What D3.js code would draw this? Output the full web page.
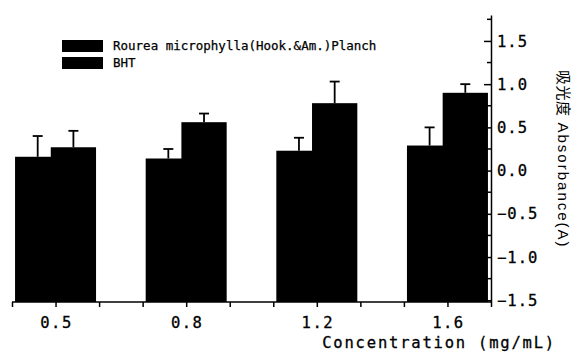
<!DOCTYPE html>
<meta charset="utf-8">
<style>
  body { margin: 0; background: #fff; }
  text { font-family: "DejaVu Sans Mono", monospace; fill: #000; }
</style>
<svg width="576" height="354"></svg>
<script src="https://d3js.org/d3.v7.min.js"></script>
<script>

    var concentrations = ["0.5", "0.8", "1.2", "1.6"];
    var seriesNames = ["Rourea microphylla(Hook.&Am.)Planch", "BHT"];
    var rourea = [0.16, 0.14, 0.23, 0.29];
    var roureaErr = [0.24, 0.11, 0.15, 0.21];
    var bht = [0.27, 0.56, 0.78, 0.90];
    var bhtErr = [0.19, 0.10, 0.25, 0.10];
    var yTicks = [-1.5, -1.0, -0.5, 0.0, 0.5, 1.0, 1.5];

    var svg = d3.select("svg");

    // x is a plain linear axis, groups sit on every third unit
    var x = d3.scaleLinear().domain([0, 11]).range([12, 491]);
    var groupPos = [1, 4, 7, 10];
    var y = d3.scaleLinear().domain([-1.52, 1.8]).range([302, 15]);
    var barW = x(1.04) - x(0);

    var bars = [];
    for (var i = 0; i < concentrations.length; i++) {
        bars.push({ c: groupPos[i] - 0.41, v: rourea[i], e: roureaErr[i] });
        bars.push({ c: groupPos[i] + 0.41, v: bht[i], e: bhtErr[i] });
    }

    // error bars first, bars drawn over them
    var err = svg.append("g").attr("stroke", "#000").attr("stroke-width", 1.8);
    bars.forEach(function(d) {
        var cx = x(d.c);
        err.append("line").attr("x1", cx).attr("x2", cx)
            .attr("y1", y(d.v)).attr("y2", y(d.v + d.e));
        err.append("line").attr("x1", cx - 5).attr("x2", cx + 5)
            .attr("y1", y(d.v + d.e)).attr("y2", y(d.v + d.e));
    });

    svg.append("g").selectAll("rect")
        .data(bars)
        .enter().append("rect")
        .attr("x", function(d) { return x(d.c) - barW / 2; })
        .attr("y", function(d) { return y(d.v); })
        .attr("width", barW)
        .attr("height", function(d) { return y.range()[0] - y(d.v); })
        .attr("fill", "#000");

    // bottom axis
    var xAxis = svg.append("g").attr("transform", "translate(0," + y.range()[0] + ")")
        .call(d3.axisBottom(x).ticks(11).tickSize(5).tickFormat(""));
    xAxis.select(".domain").attr("stroke-width", 1.5).attr("d", "M" + x(0) + ",0H" + x(11));
    xAxis.selectAll(".tick line").attr("stroke-width", 1.5);

    svg.append("g").selectAll("text")
        .data(concentrations)
        .enter().append("text")
        .attr("x", function(d, i) { return x(groupPos[i]) + 1; })
        .attr("y", 328)
        .attr("text-anchor", "middle")
        .style("font-size", "15.5px")
        .style("letter-spacing", "1.5px")
        .style("stroke", "#000").style("stroke-width", 0.3)
        .text(function(d) { return d; });

    svg.append("text")
        .attr("x", 556).attr("y", 348)
        .attr("text-anchor", "end")
        .style("font-size", "15.5px")
        .style("letter-spacing", "1.8px")
        .style("stroke", "#000").style("stroke-width", 0.3)
        .text("Concentration (mg/mL)");

    // right axis, ticks pointing inward
    var yAxis = svg.append("g").attr("transform", "translate(" + x(11) + ",0)");
    yAxis.call(d3.axisLeft(y).tickValues(yTicks).tickSize(7).tickFormat("").tickSizeOuter(0));
    yAxis.select(".domain").attr("stroke-width", 1.5);
    yAxis.selectAll(".tick line").attr("stroke-width", 1.5);
    yAxis.selectAll(".minor")
        .data(d3.range(-1.25, 1.8, 0.5))
        .enter().append("line")
        .attr("class", "minor")
        .attr("x1", -4).attr("x2", 0)
        .attr("y1", function(d) { return y(d); })
        .attr("y2", function(d) { return y(d); })
        .attr("stroke", "#000").attr("stroke-width", 1.5);

    svg.append("g").selectAll("text")
        .data(yTicks)
        .enter().append("text")
        .attr("x", x(11) + 6)
        .attr("y", function(d) { return y(d); })
        .attr("dy", "0.36em")
        .style("font-size", "15.5px")
        .style("letter-spacing", "1px")
        .style("stroke", "#000").style("stroke-width", 0.3)
        .text(function(d) { return d3.format(".1f")(d).replace("-", "\u2212"); });

    svg.append("text")
        .attr("transform", "translate(558,70) rotate(90)")
        .style("font-size", "15px")
        .html('<tspan style="font-family:\'Noto Sans CJK SC\';letter-spacing:0.5px">吸光度</tspan>'
            + '<tspan dx="6" style="font-family:\'Liberation Sans\';letter-spacing:2px">Absorbance(A)</tspan>');

    // legend
    var legend = svg.append("g");
    seriesNames.forEach(function(name, i) {
        legend.append("rect")
            .attr("x", 62).attr("y", 40 + i * 17)
            .attr("width", 41).attr("height", 12)
            .attr("fill", "#000");
        legend.append("text")
            .attr("x", 113).attr("y", 50 + i * 17)
            .style("font-size", "12.5px")
            .style("stroke", "#000").style("stroke-width", 0.25)
            .text(name);
    });

</script>
